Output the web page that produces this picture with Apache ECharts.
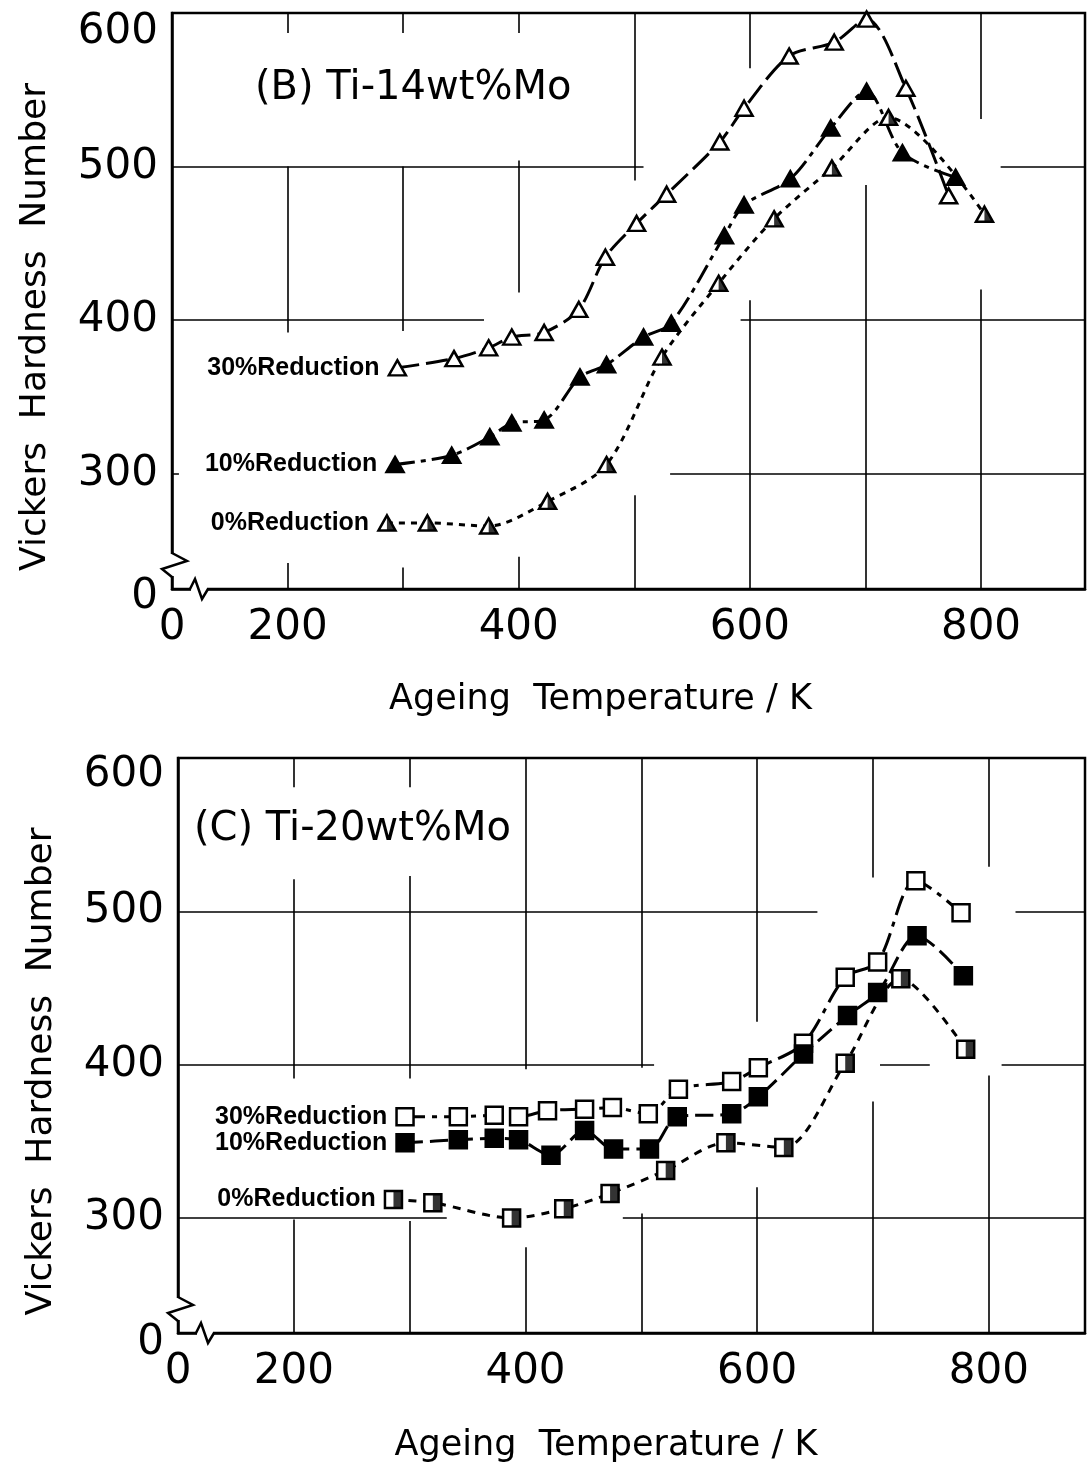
<!DOCTYPE html>
<html>
<head>
<meta charset="utf-8">
<script src="https://cdn.jsdelivr.net/npm/echarts@6/dist/echarts.min.js"></script>
<style>
  html, body { margin: 0; padding: 0; background: #fff; }
  #chart { width: 1087px; height: 1465px; }
</style>
</head>
<body>
<div id="chart"></div>
<script>
// ---- (B) Ti-14wt%Mo : ageing temperature (K) / Vickers hardness ----
const tempB30 = [295, 344, 374, 394, 422, 452, 475, 502, 528, 574, 595, 634, 673, 701, 735, 772];
const hvB30   = [369, 375, 382, 389, 392, 407, 441, 463, 482, 516, 538, 572, 581, 596, 551, 481];
const tempB10 = [293, 342, 375, 394, 422, 453, 476, 508, 532, 578, 595, 635, 670, 701, 732, 778];
const hvB10   = [306, 312, 324, 333, 335, 363, 371, 389, 398, 455, 475, 492, 525, 549, 509, 493];
const tempB0  = [286, 321, 374, 425, 476, 524, 573, 621, 671, 720, 803];
const hvB0    = [268, 268, 266, 282, 306, 376, 424, 466, 499, 532, 469];

// ---- (C) Ti-20wt%Mo ----
const tempC30 = [296, 342, 373, 394, 419, 451, 475, 506, 532, 578, 601, 640, 676, 704, 737, 776];
const hvC30   = [366, 366, 367, 366, 370, 371, 372, 368, 384, 389, 398, 414, 457, 467, 520, 499];
const tempC10 = [296, 342, 373, 394, 422, 451, 476, 507, 531, 578, 601, 640, 678, 704, 738, 778];
const hvC10   = [349, 351, 352, 351, 341, 357, 345, 345, 366, 368, 379, 407, 432, 447, 484, 458];
const tempC0  = [286, 320, 388, 433, 473, 521, 573, 623, 676, 724, 780];
const hvC0    = [312, 310, 300, 306, 316, 331, 349, 346, 401, 456, 410];

// axis label values ("0" shown at the broken-axis start)
const xLabelValues = [100, 200, 400, 600, 800];
const yLabelValues = [225, 300, 400, 500, 600];

// partial drafting grid: vertical [K, hvFrom, hvTo], horizontal [hv, kFrom, kTo]
const gridVB = [
  [200, 600, 587], [200, 500, 392], [200, 242, 225],
  [300, 600, 587], [300, 500, 393], [300, 239, 225],
  [400, 600, 587], [400, 504, 418], [400, 246, 225],
  [500, 600, 491], [500, 286, 225],
  [600, 600, 564], [600, 413, 225],
  [700, 488, 225],
  [800, 600, 531], [800, 420, 225]
];
const gridHB = [
  [500, 100, 508], [500, 817, 890],
  [400, 100, 370], [400, 592, 890],
  [300, 100, 106], [300, 531, 890]
];
const gridVC = [
  [200, 600, 581], [200, 521, 391], [200, 299, 225],
  [300, 600, 581], [300, 523, 391], [300, 298, 225],
  [400, 600, 397], [400, 281, 225],
  [500, 600, 398], [500, 303, 225],
  [600, 600, 428], [600, 320, 225],
  [700, 600, 522], [700, 376, 225],
  [800, 600, 529], [800, 393, 225]
];
const gridHC = [
  [500, 100, 652], [500, 823, 883],
  [400, 100, 511], [400, 706, 749], [400, 811, 883],
  [300, 100, 332], [300, 484, 883]
];

const FONT = 'DejaVu Sans';
const chart = echarts.init(document.getElementById('chart'));

function zip(xs, ys) {
  return xs.map((x, i) => [x, ys[i]]);
}

function gridSegments(vert, horiz, idx) {
  const data = vert.map(s => ({ coords: [[s[0], s[1]], [s[0], s[2]]] }))
    .concat(horiz.map(s => ({ coords: [[s[1], s[0]], [s[2], s[0]]] })));
  return {
    type: 'lines',
    coordinateSystem: 'cartesian2d',
    xAxisIndex: idx,
    yAxisIndex: idx,
    silent: true,
    z: 1,
    lineStyle: { color: '#000', width: 1.6, opacity: 1 },
    data: data
  };
}

function curve(name, temps, hvs, idx, symbol, size, fill, dash) {
  const pts = zip(temps, hvs);
  return {
    name: name,
    type: 'line',
    xAxisIndex: idx,
    yAxisIndex: idx,
    smooth: 0.3,
    symbol: symbol,
    symbolSize: size,
    z: 3,
    itemStyle: { color: fill, borderColor: '#000', borderWidth: 2.5 },
    lineStyle: { color: '#000', width: 3, type: dash, cap: 'butt' },
    data: pts.map((p, i) => i === 0 ? {
      value: p,
      label: {
        show: true,
        position: 'left',
        distance: 8,
        formatter: name,
        fontFamily: 'Liberation Sans',
        fontWeight: 'bold',
        fontSize: 25,
        color: '#000'
      }
    } : p)
  };
}

// right half filled overlay for the 0% reduction markers
function halfFill(temps, hvs, idx, path, size) {
  return {
    type: 'scatter',
    xAxisIndex: idx,
    yAxisIndex: idx,
    symbol: path,
    symbolSize: [size[0] / 2, size[1]],
    symbolOffset: [size[0] / 4, 0],
    itemStyle: { color: '#000' },
    silent: true,
    z: 4,
    data: zip(temps, hvs)
  };
}

function xAxisCfg(idx, max, shift, gap) {
  return {
    type: 'value',
    gridIndex: idx,
    min: 100,
    max: max,
    name: 'Ageing  Temperature / K',
    nameLocation: 'middle',
    nameGap: gap,
    nameTextStyle: { fontFamily: FONT, fontSize: 35, color: '#000', padding: [0, shift, 0, 0] },
    axisLine: { show: true, onZero: false, lineStyle: { color: '#000', width: 2.5 } },
    axisTick: { show: false },
    splitLine: { show: false },
    axisLabel: {
      customValues: xLabelValues,
      formatter: v => v === 100 ? '0' : String(v),
      fontFamily: FONT,
      fontSize: 42,
      color: '#000',
      margin: 18
    }
  };
}

function yAxisCfg(idx, topPad, zeroPad) {
  return {
    type: 'value',
    gridIndex: idx,
    min: 225,
    max: 600,
    name: 'Vickers  Hardness  Number',
    nameLocation: 'middle',
    nameRotate: 90,
    nameGap: 118,
    nameTextStyle: { fontFamily: FONT, fontSize: 36, color: '#000', padding: [0, 52, 0, 0] },
    axisLine: { show: true, onZero: false, lineStyle: { color: '#000', width: 2.5 } },
    axisTick: { show: false },
    splitLine: { show: false },
    axisLabel: {
      customValues: yLabelValues,
      formatter: v => v === 225 ? '{z|0}' : (v === 600 ? '{t|600}' : String(v)),
      fontFamily: FONT,
      fontSize: 42,
      color: '#000',
      margin: 14,
      rich: {
        t: { fontFamily: FONT, fontSize: 42, color: '#000', padding: [topPad, 0, 0, 0] },
        z: { fontFamily: FONT, fontSize: 42, color: '#000', padding: [zeroPad, 0, 0, 0] }
      }
    }
  };
}

const triHalf = 'path://M0 0 L10 20 L0 20 Z';
const sqHalf = 'rect';

const option = {
  backgroundColor: '#fff',
  animation: false,
  title: [
    { text: '(B) Ti-14wt%Mo', left: 250, top: 64,
      textStyle: { fontFamily: FONT, fontSize: 40, fontWeight: 'normal', color: '#000' } },
    { text: '(C) Ti-20wt%Mo', left: 189, top: 805,
      textStyle: { fontFamily: FONT, fontSize: 40, fontWeight: 'normal', color: '#000' } }
  ],
  grid: [
    { left: 172, right: 2, top: 13, height: 576, show: true, borderColor: '#000', borderWidth: 2.5 },
    { left: 178, right: 2, top: 758, height: 575, show: true, borderColor: '#000', borderWidth: 2.5 }
  ],
  xAxis: [xAxisCfg(0, 890, 56, 93), xAxisCfg(1, 883, 51, 95)],
  yAxis: [yAxisCfg(0, 38, 16), yAxisCfg(1, 34, 20)],
  series: [
    gridSegments(gridVB, gridHB, 0),
    gridSegments(gridVC, gridHC, 1),

    curve('30%Reduction', tempB30, hvB30, 0, 'triangle', [17, 15], '#fff', [22, 7]),
    curve('10%Reduction', tempB10, hvB10, 0, 'triangle', [17, 15], '#000', [20, 6, 5, 6]),
    curve('0%Reduction', tempB0, hvB0, 0, 'triangle', [17, 15], '#fff', [6, 6]),
    halfFill(tempB0, hvB0, 0, triHalf, [17, 15]),

    curve('30%Reduction', tempC30, hvC30, 1, 'rect', [17, 17], '#fff', [20, 7, 5, 7]),
    curve('10%Reduction', tempC10, hvC10, 1, 'rect', [17, 17], '#000', [18, 7]),
    curve('0%Reduction', tempC0, hvC0, 1, 'rect', [17, 17], '#fff', [8, 7]),
    halfFill(tempC0, hvC0, 1, sqHalf, [17, 17])
  ]
};

chart.setOption(option);

// zigzag axis-break marks at the lower-left corner of each panel
function breakMarks(c) {
  const x = c[0], y = c[1];
  const line = { stroke: '#000', lineWidth: 2.5, fill: 'none' };
  return [
    { type: 'rect', z: 100, shape: { x: x - 5, y: y - 35, width: 10, height: 22 }, style: { fill: '#fff' } },
    { type: 'polyline', z: 101, shape: { points: [[x, y - 36], [x + 15, y - 28], [x - 10, y - 20], [x, y - 12]] }, style: line },
    { type: 'rect', z: 100, shape: { x: x + 19, y: y - 5, width: 16, height: 10 }, style: { fill: '#fff' } },
    { type: 'polyline', z: 101, shape: { points: [[x + 18, y], [x + 23, y - 10], [x + 30, y + 10], [x + 36, y]] }, style: line }
  ];
}

const cB = chart.convertToPixel({ gridIndex: 0 }, [100, 225]);
const cC = chart.convertToPixel({ gridIndex: 1 }, [100, 225]);
chart.setOption({ graphic: breakMarks(cB).concat(breakMarks(cC)) });
</script>
</body>
</html>
